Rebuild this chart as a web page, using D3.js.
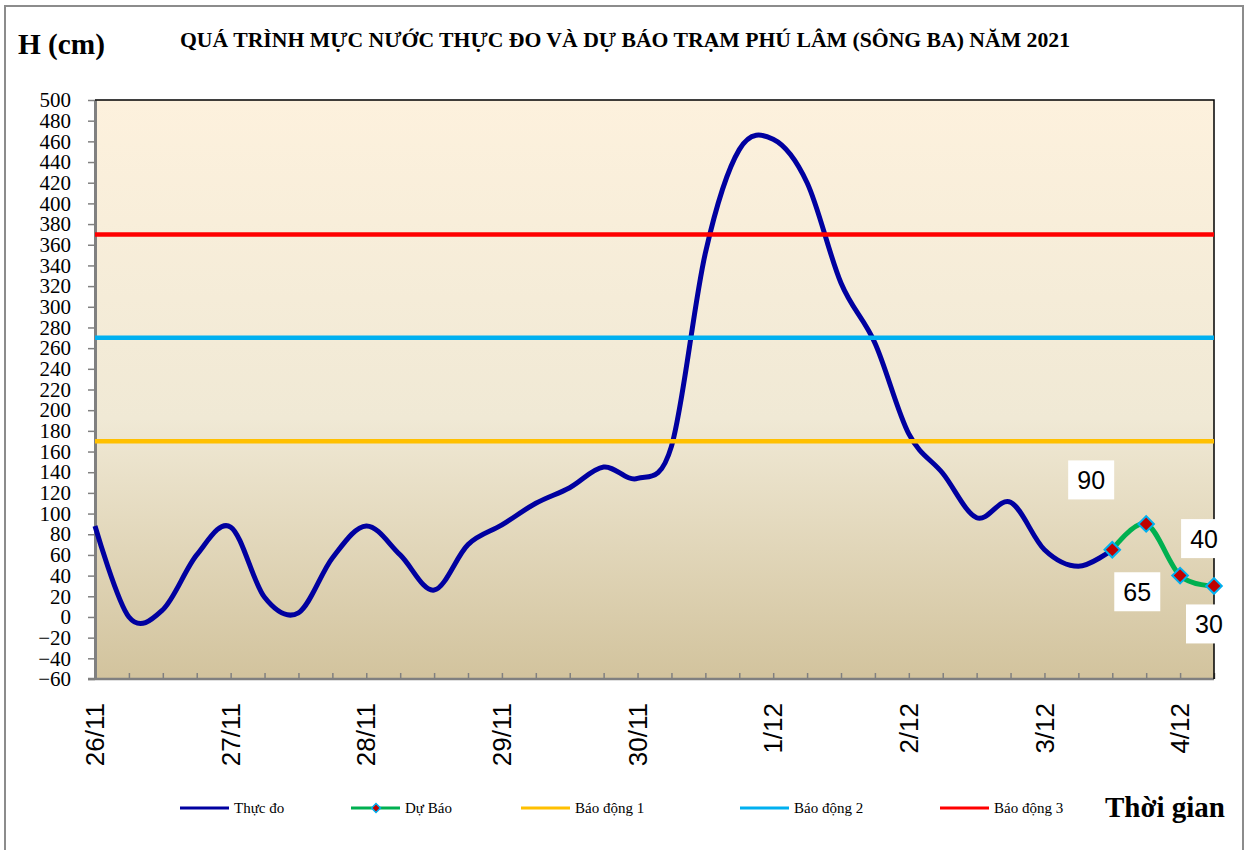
<!DOCTYPE html>
<html>
<head>
<meta charset="utf-8">
<script src="https://cdn.jsdelivr.net/npm/d3@7"></script>
<style>
    body { margin: 0; background: #ffffff; }
</style>
</head>
<body>
<script>

/*
 * Data: water level at Phu Lam station, every 6 hours from 26/11 00h.
 */
var obsHours = [0, 6, 12, 18, 24, 30, 36, 42, 48, 54, 60, 66, 72, 78, 84, 90,
    96, 102, 108, 114, 120, 126, 132, 138, 144, 150, 156, 162, 168, 174, 180];
var obsLevels = [88, 0, 7, 60, 87, 19, 4, 57, 88, 60, 26, 70, 89, 110, 125, 145,
    134, 165, 352, 452, 462, 420, 323, 265, 177, 139, 96, 111, 65, 49, 65];

var fcHours = [180, 186, 192, 198];
var fcLevels = [65, 90, 40, 30];

// alarm levels (Báo động 1, 2, 3)
var alarmNames = ['Báo động 1', 'Báo động 2', 'Báo động 3'];
var alarmLevels = [170, 270, 370];

var dayLabels = ['26/11', '27/11', '28/11', '29/11', '30/11', '1/12', '2/12', '3/12', '4/12'];
var dayHours = [0, 24, 48, 72, 96, 120, 144, 168, 192];

var yTicks = [-60, -40, -20, 0, 20, 40, 60, 80, 100, 120, 140, 160, 180, 200, 220,
    240, 260, 280, 300, 320, 340, 360, 380, 400, 420, 440, 460, 480, 500];

// styles
var width = 1251,
    height = 850,
    plotLeft = 95,
    plotRight = 1214,
    plotTop = 100,
    plotBottom = 679,
    obsColor = '#0000a0',
    fcColor = '#00b050',
    alarmColors = ['#ffc000', '#00b0f0', '#ff0000'],
    serif = '"Liberation Serif", "Times New Roman", serif',
    sans = '"Liberation Sans", Arial, sans-serif';

// label box offsets for forecast values (dx, dy from the point)
var fcLabelOffsets = [[25, 42], [-55, -44], [24, -37], [-5, 38]];

var svg = d3.select('body')
    .append('svg')
    .attr('width', width)
    .attr('height', height);

var defs = svg.append('defs');

var grad = defs.append('linearGradient')
    .attr('id', 'bg')
    .attr('x1', '0%').attr('y1', '0%')
    .attr('x2', '0%').attr('y2', '100%');
grad.append('stop').attr('offset', '0%').attr('stop-color', '#fdf1dd');
grad.append('stop').attr('offset', '55%').attr('stop-color', '#f0e9d5');
grad.append('stop').attr('offset', '100%').attr('stop-color', '#d2c39d');

// outer frame
svg.append('rect')
    .attr('x', 5)
    .attr('y', 6)
    .attr('width', 1238)
    .attr('height', 860)
    .attr('fill', '#ffffff')
    .attr('stroke', '#8c8c8c')
    .attr('stroke-width', 2);

var x = d3.scaleLinear().domain([0, 198]).range([plotLeft, plotRight]);
var y = d3.scaleLinear().domain([-60, 500]).range([plotBottom, plotTop]);

// plot area
svg.append('rect')
    .attr('x', plotLeft)
    .attr('y', plotTop)
    .attr('width', plotRight - plotLeft)
    .attr('height', plotBottom - plotTop)
    .attr('fill', 'url(#bg)');

// y axis
var yAxis = svg.append('g')
    .attr('transform', 'translate(' + plotLeft + ',0)')
    .call(d3.axisLeft(y)
        .tickValues(yTicks)
        .tickSize(7)
        .tickPadding(17)
        .tickSizeOuter(0));

yAxis.select('.domain').attr('stroke', '#808080').attr('stroke-width', 3);
yAxis.selectAll('.tick line').attr('stroke', '#808080').attr('stroke-width', 1.5);
yAxis.selectAll('.tick text')
    .attr('font-family', serif)
    .attr('font-size', '21px')
    .attr('fill', '#000');

// x axis: ticks every 6 hours, inside the plot
var xAxis = svg.append('g')
    .attr('transform', 'translate(0,' + plotBottom + ')')
    .call(d3.axisBottom(x)
        .tickValues(obsHours.concat(fcHours.slice(1)))
        .tickSize(-6)
        .tickSizeOuter(0)
        .tickFormat(''));

xAxis.select('.domain')
    .attr('d', 'M' + (plotLeft - 7) + ',0H' + plotRight)
    .attr('stroke', '#808080')
    .attr('stroke-width', 2.5);
xAxis.selectAll('.tick line').attr('stroke', '#808080').attr('stroke-width', 1.5);

svg.append('g')
    .selectAll('text')
    .data(dayLabels)
    .enter()
    .append('text')
    .attr('transform', function(d, i) {
        return 'translate(' + x(dayHours[i]) + ',703) rotate(-90)';
    })
    .attr('text-anchor', 'end')
    .attr('dy', '0.35em')
    .attr('font-family', sans)
    .attr('font-size', '26px')
    .text(function(d) { return d; });

// top and right borders
svg.append('path')
    .attr('d', 'M' + plotLeft + ',' + plotTop + 'H' + plotRight + 'V' + plotBottom)
    .attr('fill', 'none')
    .attr('stroke', '#000')
    .attr('stroke-width', 1.5);

var line = d3.line()
    .x(function(d) { return x(d[0]); })
    .y(function(d) { return y(d[1]); })
    .curve(d3.curveCardinal.tension(0));

var obsData = obsHours.map(function(h, i) { return [h, obsLevels[i]]; });
var fcData = fcHours.map(function(h, i) { return [h, fcLevels[i]]; });

svg.append('path')
    .datum(obsData)
    .attr('d', line)
    .attr('fill', 'none')
    .attr('stroke', obsColor)
    .attr('stroke-width', 5)
    .attr('stroke-linejoin', 'round');

svg.append('path')
    .datum(fcData)
    .attr('d', line)
    .attr('fill', 'none')
    .attr('stroke', fcColor)
    .attr('stroke-width', 5)
    .attr('stroke-linejoin', 'round');

// alarm lines
svg.append('g')
    .selectAll('line')
    .data(alarmLevels)
    .enter()
    .append('line')
    .attr('x1', plotLeft)
    .attr('x2', plotRight)
    .attr('y1', function(d) { return y(d); })
    .attr('y2', function(d) { return y(d); })
    .attr('stroke', function(d, i) { return alarmColors[i]; })
    .attr('stroke-width', 4.5);

var diamond = d3.symbol().type(d3.symbolSquare).size(121);

svg.append('g')
    .selectAll('path')
    .data(fcData)
    .enter()
    .append('path')
    .attr('d', diamond)
    .attr('transform', function(d) {
        return 'translate(' + x(d[0]) + ',' + y(d[1]) + ') rotate(45)';
    })
    .attr('fill', '#c00000')
    .attr('stroke', '#00b0f0')
    .attr('stroke-width', 2);

// value labels with white boxes
var labels = svg.append('g')
    .selectAll('g')
    .data(fcData)
    .enter()
    .append('g')
    .attr('transform', function(d, i) {
        var o = fcLabelOffsets[i];
        return 'translate(' + (x(d[0]) + o[0]) + ',' + (y(d[1]) + o[1]) + ')';
    });

labels.append('rect')
    .attr('x', -23)
    .attr('y', -19.5)
    .attr('height', 39)
    .attr('width', function(d, i) {
        var cx = x(d[0]) + fcLabelOffsets[i][0];
        return Math.min(46, plotRight + 1 - (cx - 23));
    })
    .attr('fill', '#ffffff');

labels.append('text')
    .attr('text-anchor', 'middle')
    .attr('dy', '0.36em')
    .attr('font-family', sans)
    .attr('font-size', '25px')
    .text(function(d) { return d[1]; });

// titles
svg.append('text')
    .attr('x', 18)
    .attr('y', 54)
    .attr('font-family', serif)
    .attr('font-weight', 'bold')
    .attr('font-size', '29px')
    .attr('textLength', 87)
    .attr('lengthAdjust', 'spacingAndGlyphs')
    .text('H (cm)');

svg.append('text')
    .attr('x', 180)
    .attr('y', 47)
    .attr('font-family', serif)
    .attr('font-weight', 'bold')
    .attr('font-size', '20px')
    .attr('textLength', 890)
    .attr('lengthAdjust', 'spacingAndGlyphs')
    .text('QUÁ TRÌNH MỰC NƯỚC THỰC ĐO VÀ DỰ BÁO TRẠM PHÚ LÂM (SÔNG BA) NĂM 2021');

svg.append('text')
    .attr('x', 1105)
    .attr('y', 817)
    .attr('font-family', serif)
    .attr('font-weight', 'bold')
    .attr('font-size', '29px')
    .attr('textLength', 120)
    .attr('lengthAdjust', 'spacingAndGlyphs')
    .text('Thời gian');

// legend
var legendItems = [
    { text: 'Thực đo', color: obsColor, x: 180 },
    { text: 'Dự Báo', color: fcColor, x: 351, marker: true },
    { text: alarmNames[0], color: alarmColors[0], x: 521 },
    { text: alarmNames[1], color: alarmColors[1], x: 740 },
    { text: alarmNames[2], color: alarmColors[2], x: 940 }
];

var legend = svg.append('g')
    .selectAll('g')
    .data(legendItems)
    .enter()
    .append('g')
    .attr('transform', function(d) { return 'translate(' + d.x + ',808)'; });

legend.append('path')
    .attr('d', 'M0,0 L49,0')
    .attr('stroke', function(d) { return d.color; })
    .attr('stroke-width', 3);

legend.filter(function(d) { return d.marker; })
    .append('path')
    .attr('d', d3.symbol().type(d3.symbolSquare).size(40))
    .attr('transform', 'translate(25,0) rotate(45)')
    .attr('fill', '#c00000')
    .attr('stroke', '#00b0f0')
    .attr('stroke-width', 1.5);

legend.append('text')
    .attr('x', 54)
    .attr('dy', '0.33em')
    .attr('font-family', serif)
    .attr('font-size', '15px')
    .text(function(d) { return d.text; });

</script>
</body>
</html>
